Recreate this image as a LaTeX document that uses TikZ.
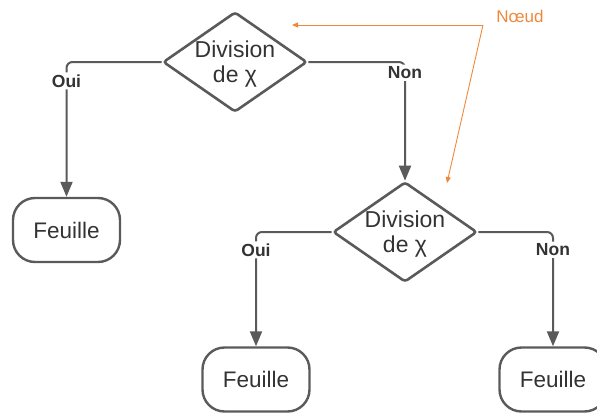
\documentclass[tikz,border=0pt]{standalone}
\usepackage{fontspec}
\setmainfont{Liberation Sans}
\usetikzlibrary{shapes.geometric,arrows.meta}
\definecolor{ln}{HTML}{5A5A5A}
\definecolor{tx}{HTML}{333333}
\definecolor{orng}{HTML}{F0883C}
\begin{document}
\begin{tikzpicture}[x=1pt,y=-1pt,
  dia/.style={draw=ln,line width=2.6pt,shape=diamond,minimum width=144pt,minimum height=100pt,inner sep=0pt,rounded corners=3pt},
  dtxt/.style={font=\fontsize{23}{25}\selectfont,align=center,text=tx,inner sep=0pt},
  leaf/.style={draw=ln,line width=2.4pt,rounded corners=22pt,minimum width=107pt,minimum height=64pt,font=\fontsize{22.5}{25}\selectfont,text=tx},
  conn/.style={draw=ln,line width=2pt,-{Triangle[length=15pt,width=12pt]},rounded corners=6pt},
  lbl/.style={fill=white,font=\bfseries\fontsize{17.5}{20}\selectfont,text=tx,inner sep=2pt},
  note/.style={draw=orng,line width=0.9pt,-{Triangle[length=6pt,width=5pt]}}
]
\useasboundingbox (0,0) rectangle (597,415);
\clip (0,0) rectangle (597,415);
\node[dia] (d1) at (235,62) {};
\node[dtxt] (t1) at ([yshift=-2pt]d1.center) {Division\\de χ};
\node[dia] (d2) at (405,232) {};
\node[dtxt] (t2) at ([yshift=-2pt]d2.center) {Division\\de χ};
\node[leaf] (f1) at (66.5,230) {Feuille};
\node[leaf] (f2) at (256,379.5) {Feuille};
\node[leaf] (f3) at (553,379.5) {Feuille};
\draw[conn] (d1.west) -| node[lbl,pos=0.57] (l1) {Oui} (f1.north);
\draw[conn] (d1.east) -| node[lbl,pos=0.545] (l2) {Non} (d2.north);
\draw[conn] (d2.west) -| node[lbl,pos=0.578] (l3) {Oui} (f2.north);
\draw[conn] (d2.east) -| node[lbl,pos=0.578] (l4) {Non} (f3.north);
\node[text=orng,font=\fontsize{17}{20}\selectfont] (nd) at (520,16) {Nœud};
\coordinate (o) at (483,25);
\coordinate (a1) at (292,25);
\coordinate (a2) at (447,183);
\draw[note] (o) -- (a1);
\draw[note] (o) -- (a2);
\end{tikzpicture}
\end{document}
